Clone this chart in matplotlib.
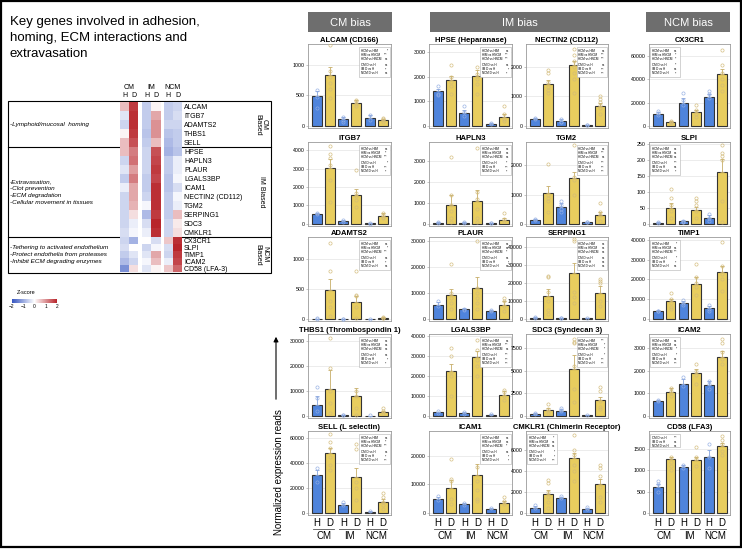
import numpy as np
import matplotlib
matplotlib.use("Agg")
import matplotlib.pyplot as plt
import matplotlib.transforms as mtransforms
from matplotlib.colors import LinearSegmentedColormap
from matplotlib.patches import Rectangle

plt.rcParams['font.family'] = ['Liberation Sans', 'DejaVu Sans']

W, H = 742, 549

# ---------------- heatmap data (z-scores: CM H, CM D, IM H, IM D, NCM H, NCM D)
hm_groups = ['CM', 'IM', 'NCM']
hm_cols = ['H', 'D', 'H', 'D', 'H', 'D']

genes_cm = ['ALCAM', 'ITGB7', 'ADAMTS2', 'THBS1', 'SELL']
z_cm = [[0.6, 1.8, -0.6, 0.1, -0.6, -0.5],
        [-0.3, 1.9, -0.6, 0.8, -0.6, -0.4],
        [-0.5, 1.9, -0.6, 1.0, -0.5, -0.5],
        [0.1, 1.8, -0.7, 1.0, -0.7, -0.6],
        [0.6, 1.6, -0.6, 0.6, -0.8, -0.6]]

genes_im = ['HPSE', 'HAPLN3', 'PLAUR', 'LGALS3BP', 'ICAM1',
            'NECTIN2 (CD112)', 'TGM2', 'SERPING1', 'SDC3', 'CMKLR1']
z_im = [[0.6, 1.2, -0.5, 1.6, -0.9, -0.7],
        [-0.5, 1.3, -0.5, 1.7, -0.6, -0.2],
        [-0.3, 0.9, -0.5, 1.8, -0.6, -0.2],
        [-0.6, 1.2, -0.6, 1.7, -0.7, -0.1],
        [-0.2, 0.8, -0.6, 1.9, -0.7, -0.4],
        [-0.5, 0.8, -0.5, 1.9, -0.6, -0.1],
        [-0.5, 0.7, -0.1, 1.9, -0.6, -0.2],
        [-0.5, 0.3, -0.8, 1.8, -0.6, 0.6],
        [-0.5, -0.2, -0.4, 2.0, -0.5, 0.2],
        [-0.4, -0.1, -0.2, 1.9, -0.5, 0.3]]

genes_ncm = ['CX3CR1', 'SLPI', 'TIMP1', 'ICAM2', 'CD58 (LFA-3)']
z_ncm = [[-0.5, -0.9, 0.0, -0.4, 0.5, 1.9],
         [-0.4, 0.0, -0.5, -0.1, -0.4, 2.0],
         [-0.6, -0.3, -0.3, 0.8, -0.5, 1.8],
         [-0.8, -0.5, -0.1, 0.6, -0.2, 1.7],
         [-1.3, 0.3, -0.3, 0.1, 0.5, 1.4]]

desc_cm = ['-Lymphoid/mucosal  homing']
desc_im = ['-Extravasation,', '-Clot prevention', '-ECM degradation',
           '-Cellular movement in tissues']
desc_ncm = ['-Tethering to activated endothelium',
            '-Protect endothelia from proteases',
            '-Inhibit ECM degrading enzymes']

# ---------------- bar chart data (H CM, D CM, H IM, D IM, H NCM, D NCM)
titles = ['ALCAM (CD166)', 'ITGB7', 'ADAMTS2', 'THBS1 (Thrombospondin 1)', 'SELL (L selectin)',
          'HPSE (Heparanase)', 'HAPLN3', 'PLAUR', 'LGALS3BP', 'ICAM1',
          'NECTIN2 (CD112)', 'TGM2', 'SERPING1', 'SDC3 (Syndecan 3)', 'CMKLR1 (Chimerin Receptor)',
          'CX3CR1', 'SLPI', 'TIMP1', 'ICAM2', 'CD58 (LFA3)']

means = [[490, 840, 110, 380, 130, 100],
         [550, 3050, 150, 1580, 30, 440],
         [5, 480, 3, 290, 3, 20],
         [4500, 10800, 400, 7800, 100, 1400],
         [30500, 48000, 6500, 29000, 1000, 9000],
         [1400, 1880, 530, 2020, 90, 380],
         [60, 900, 60, 1070, 40, 200],
         [5500, 9200, 3800, 12000, 3200, 5500],
         [1800, 22500, 1500, 29500, 700, 10500],
         [4800, 8600, 3000, 13200, 1400, 3300],
         [250, 1420, 170, 2060, 30, 680],
         [150, 1070, 570, 1580, 60, 300],
         [800, 12500, 600, 25500, 300, 14500],
         [200, 700, 600, 5200, 100, 1800],
         [500, 1750, 1450, 5200, 400, 2700],
         [10500, 3500, 20000, 11500, 25000, 44000],
         [3, 50, 8, 43, 17, 162],
         [4000, 9000, 8000, 17500, 5500, 24000],
         [650, 1070, 1420, 1900, 1350, 2600],
         [600, 1250, 1070, 1230, 1310, 1560]]

sems = [[80, 120, 30, 40, 50, 20],
        [50, 450, 40, 300, 10, 150],
        [2, 190, 1, 100, 1, 10],
        [3500, 7500, 100, 3300, 50, 600],
        [3500, 4000, 1500, 7000, 300, 2000],
        [100, 150, 100, 250, 30, 100],
        [30, 480, 20, 550, 10, 80],
        [1000, 2500, 500, 4000, 300, 1500],
        [300, 3500, 400, 3000, 100, 2000],
        [800, 3000, 300, 4000, 200, 800],
        [20, 150, 60, 150, 10, 100],
        [20, 230, 130, 200, 10, 100],
        [300, 4000, 200, 5500, 100, 3500],
        [80, 200, 150, 1500, 30, 300],
        [150, 400, 100, 500, 100, 500],
        [1500, 1000, 3500, 2000, 2000, 5000],
        [2, 15, 3, 10, 10, 40],
        [300, 1000, 1000, 3500, 1000, 3000],
        [50, 150, 200, 150, 200, 250],
        [80, 50, 50, 80, 150, 70]]

dots = [
    [[580, 300, 470], [1330, 900, 700, 600, 450, 800], [150, 60, 100], [430, 400, 360, 330], [180, 100], [130, 90, 60, 110]],
    [[600, 520], [4250, 3800, 3600, 3200, 2400, 1200], [200, 120], [2900, 1700, 1500, 1300, 900], [40, 20], [600, 500, 400, 300]],
    [[10, 5], [1270, 800, 300, 200, 50], [5, 3], [800, 400, 380, 200, 10], [5], [40, 20, 10]],
    [[11500, 7000, 2000], [31000, 19000, 10000, 5000, 1000], [500, 300], [10000, 8000, 3000, 500], [200], [3000, 2000, 1000]],
    [[36000, 25000], [63000, 57000, 52000, 45000, 38000, 34000], [9000, 6000], [55000, 51000, 25000, 20000, 10000], [1500], [16000, 13000, 9000, 6000, 3000]],
    [[1600, 1300, 1250], [2450, 2000, 1800, 1600, 1300], [800, 550, 400], [2400, 2100, 1900, 1700, 1300], [100, 80], [800, 500, 300, 200]],
    [[100, 60], [3200, 1400, 900, 600, 300, 100], [80, 50], [3600, 1500, 1200, 700, 300, 100], [50, 30], [500, 250, 150]],
    [[7000, 5000], [21000, 10000, 8000, 6000, 4000], [4000, 3500], [30000, 12000, 10000, 8000, 6000, 4000], [3500, 3000], [8000, 7000, 5000, 3000]],
    [[2500, 1500], [34000, 30000, 22000, 20000, 10000], [1800, 1200], [38000, 33000, 28000, 25000, 20000], [800], [13000, 12000, 10000, 8000]],
    [[6000, 4500], [19000, 12000, 11000, 5000, 3000], [3500, 2800], [16000, 11000, 8000, 5000, 4000], [1600], [5500, 4000, 3000]],
    [[260, 250], [1900, 1800, 1500, 1300, 1200, 1100], [220, 150, 120], [2600, 2400, 2200, 2000, 1800, 1600, 1100], [40, 30], [1000, 900, 800, 700, 600, 400]],
    [[170, 140], [2050, 1000, 900, 800, 400], [780, 650, 500, 400], [2700, 1600, 1500, 1000], [80, 50], [700, 400, 300, 100]],
    [[1200, 800], [24000, 23000, 15000, 10000, 5000, 3000], [800, 500], [44000, 43000, 15000, 12000, 9000], [400], [22000, 21000, 20000, 10000, 7000]],
    [[350, 200], [1300, 800, 500, 300], [900, 700, 500], [8500, 8200, 8000, 5500, 3000, 1500], [150], [3200, 2800, 1600, 1000, 800]],
    [[800, 500], [3100, 2800, 2000, 1500, 1000, 500], [1600, 1400], [7400, 6000, 5500, 4500, 4000, 3000], [600, 400], [4500, 4300, 3500, 2500, 1500, 1000]],
    [[11000, 9000, 13000], [4500, 3000, 2500], [28000, 22000, 18000], [18000, 14000, 10000, 8000], [30000, 27000, 24000], [65000, 52000, 45000, 40000, 35000, 30000]],
    [[5, 3], [110, 80, 60, 40, 20], [10, 7, 5], [80, 70, 60, 40, 20], [30, 20, 10], [245, 220, 210, 200, 70, 5]],
    [[4200, 3800], [13000, 10000, 8000, 6000, 5000], [9500, 8000, 7000], [28000, 21000, 18000, 16000, 12000], [7000, 5000, 4000], [39000, 27000, 23000, 20000, 14000]],
    [[700, 650], [1250, 1100, 1000, 900], [1700, 1300], [2300, 2000, 1800, 1400], [1550, 1400, 1200], [3400, 3200, 2800, 2500, 2300]],
    [[750, 680, 500], [1300, 1200, 1100, 1000], [1120, 1050], [1550, 1300, 1250, 1100], [1600, 1300, 1050], [1800, 1700, 1600, 1450, 1350]],
]

yticks = [[0, 500, 1000], [0, 1000, 2000, 3000, 4000], [0, 500, 1000],
          [0, 10000, 20000, 30000], [0, 20000, 40000, 60000],
          [0, 1000, 2000, 3000], [0, 1000, 2000, 3000], [0, 10000, 20000, 30000],
          [0, 10000, 20000, 30000, 40000], [0, 10000, 20000],
          [0, 1000, 2000], [0, 1000, 2000], [0, 10000, 20000, 30000, 40000],
          [0, 2500, 5000, 7500], [0, 2000, 4000, 6000],
          [0, 20000, 40000, 60000], [0, 50, 100, 150, 200, 250],
          [0, 10000, 20000, 30000, 40000], [0, 1000, 2000, 3000], [0, 500, 1000, 1500]]
ytop = [1340, 4440, 1373, 32700, 65600, 3320, 3900, 31600, 40900, 28600,
        2770, 2800, 45300, 9030, 7770, 70000, 255, 41500, 3615, 1915]

legend_left = [False] * 14 + [True] * 6

cmp_labels = ['HCM vs HIM', 'HIM vs HNCM', 'HCM vs HNCM', 'CM D vs H', 'IM D vs H', 'NCM D vs H']
sig = [['*', '***', 'ns', 'ns', '**', 'ns'],
       ['ns', '**', '***', '*', '***', '**'],
       ['ns', '*', '***', 'ns', '**', 'ns'],
       ['ns', 'ns', 'ns', 'ns', '*', '**'],
       ['ns', '**', '***', 'ns', '**', '***'],
       ['ns', '***', '***', 'ns', '*', '**'],
       ['ns', 'ns', 'ns', '**', '***', '**'],
       ['ns', 'ns', '**', 'ns', '*', 'ns'],
       ['ns', '***', 'ns', '***', '***', '***'],
       ['ns', 'ns', '**', 'ns', '*', '*'],
       ['ns', '***', '***', 'ns', '***', '***'],
       ['ns', '***', 'ns', '***', '***', '***'],
       ['ns', 'ns', 'ns', 'ns', 'ns', 'ns'],
       ['***', '*', '*', '*', '***', '***'],
       ['**', 'ns', 'ns', '*', '*', '***'],
       ['ns', '**', '**', '**', 'ns', '**'],
       ['ns', 'ns', 'ns', '***', 'ns', '**'],
       ['*', 'ns', '***', '*', '**', 'ns'],
       ['ns', 'ns', '*', '*', 'ns', '***'],
       ['ns', 'ns', 'ns', '***', 'ns', 'ns']]

bias_headers = ['CM bias', 'IM bias', 'NCM bias']

bar_colors = ['#4f84dc', '#e8cd5e'] * 3
err_colors = ['#86a4dc', '#c6ad68']
dot_colors = ['#93aee3', '#d2ba78']

fig = plt.figure(figsize=(W / 100, H / 100), dpi=100)


def px_axes(x0, y0, w, h):
    return fig.add_axes([x0 / W, 1 - (y0 + h) / H, w / W, h / H])


# overlay in pixel coordinates for frames and free text
ov = fig.add_axes([0, 0, 1, 1])
ov.set_xlim(0, W)
ov.set_ylim(H, 0)
ov.axis('off')
ov.add_patch(Rectangle((1, 1), W - 2, H - 3, fill=False, lw=1.6, ec='black'))

# ---------------- left panel
for k, line in enumerate(['Key genes involved in adhesion,', 'homing, ECM interactions and',
                          'extravasation']):
    ov.text(10, 22 + k * 16, line, fontsize=9.5, va='center', ha='left')

ov.add_patch(Rectangle((8, 101), 263, 172, fill=False, lw=0.8, ec='black'))
ov.plot([8, 271], [147, 147], color='black', lw=0.8)
ov.plot([8, 271], [237, 237], color='black', lw=0.8)

cmap = LinearSegmentedColormap.from_list('zs', ['#3655c0', '#ffffff', '#b8252b'])
x_edges = [0, 1, 2, 2.45, 3.45, 4.45, 4.8, 5.8, 6.8]
col_centers = [0.5, 1.5, 2.95, 3.95, 5.3, 6.3]

hm_blocks = [(genes_cm, z_cm, 102, 147, desc_cm, 'CM\nBiased'),
             (genes_im, z_im, 147, 237, desc_im, 'IM Biased'),
             (genes_ncm, z_ncm, 237, 272, desc_ncm, 'NCM\nBiased')]

for b, (genes, z, y0, y1, desc, side) in enumerate(hm_blocks):
    hax = px_axes(120, y0, 62, y1 - y0)
    data = np.insert(np.array(z, float), [2, 4], np.nan, axis=1)
    hax.pcolormesh(x_edges, np.arange(len(genes) + 1), data, cmap=cmap, vmin=-2, vmax=2)
    hax.set_xlim(0, 6.8)
    hax.set_ylim(len(genes), 0)
    for s in hax.spines.values():
        s.set_visible(False)
    hax.yaxis.tick_right()
    hax.set_yticks(np.arange(len(genes)) + 0.5)
    hax.set_yticklabels(genes, fontsize=5)
    hax.tick_params(axis='y', length=0, pad=1.5)
    if b == 0:
        hax.xaxis.tick_top()
        hax.set_xticks(col_centers)
        hax.set_xticklabels(hm_cols, fontsize=5)
        hax.tick_params(axis='x', length=0, pad=2)
        for g, name in enumerate(hm_groups):
            hax.annotate(name, xy=((col_centers[2 * g] + col_centers[2 * g + 1]) / 2, 1),
                         xycoords=('data', 'axes fraction'), xytext=(0, 10.5),
                         textcoords='offset points', ha='center', va='center', fontsize=5)
    else:
        hax.set_xticks([])
    # descriptions
    mid = (y0 + y1) / 2
    n = len(desc)
    for k, d in enumerate(desc):
        ov.text(10, mid + (k - (n - 1) / 2) * 6.8, d, fontsize=4.6, style='italic',
                va='center', ha='left')
    ov.text(261, mid, side, rotation=270, fontsize=5, ha='center', va='center',
            linespacing=1.0)

cax = px_axes(12, 299, 45, 4)
sm = plt.cm.ScalarMappable(cmap=cmap, norm=plt.Normalize(-2, 2))
cb = fig.colorbar(sm, cax=cax, orientation='horizontal')
cb.set_ticks([-2, -1, 0, 1, 2])
cb.ax.tick_params(labelsize=3.5, length=0, pad=1)
cb.outline.set_visible(False)
ov.text(26, 293, 'Z-score', fontsize=4, ha='center', va='center')

# ---------------- right panel
header_boxes = [(308, 84), (430, 180), (646, 84)]
for (hx, hw), name in zip(header_boxes, bias_headers):
    ov.add_patch(Rectangle((hx, 12), hw, 20, fc='#6e6e6e', ec='none'))
    ov.text(hx + hw / 2, 22.5, name, color='white', fontsize=8, ha='center', va='center')

ov.annotate('', xy=(276, 334), xytext=(276, 402),
            arrowprops=dict(arrowstyle='-|>', color='black', lw=0.8, mutation_scale=7))
ov.text(279, 472, 'Normalized expression reads', rotation=90, fontsize=7,
        ha='center', va='center')

col_x = [308, 429, 526, 649]
col_w = [83, 83, 82, 81]
row_y = [44, 142, 237, 334, 431]
ax_h = 84
xpos = np.arange(6)

for i, t in enumerate(titles):
    c, r = divmod(i, 5)
    ax = px_axes(col_x[c], row_y[r], col_w[c], ax_h)
    ax.bar(xpos, means[i], width=0.76, color=bar_colors, edgecolor='#333333',
           linewidth=0.8, zorder=2)
    for j in range(6):
        ax.errorbar(xpos[j], means[i][j], yerr=[[0], [sems[i][j]]], fmt='none',
                    ecolor=err_colors[j % 2], elinewidth=0.6, capsize=1.5,
                    capthick=0.6, zorder=3)
        ax.plot([xpos[j]] * len(dots[i][j]), dots[i][j], 'o', ms=2.3, mfc='none',
                mec=dot_colors[j % 2], mew=0.45, zorder=4)
    ax.set_xlim(-0.68, 5.62)
    ax.set_ylim(-0.025 * ytop[i], ytop[i])
    ax.set_yticks(yticks[i])
    ax.set_yticklabels([str(v) for v in yticks[i]], fontsize=3.8)
    ax.yaxis.grid(True, color='#e4e4e4', lw=0.5)
    ax.set_axisbelow(True)
    ax.tick_params(axis='y', length=1.2, width=0.4, color='#999999', pad=1)
    for s in ax.spines.values():
        s.set_color('#9a9a9a')
        s.set_linewidth(0.6)
    ax.set_title(t, fontsize=5.5, fontweight='bold', pad=1.5)

    # significance legend box
    labels = cmp_labels if i != 19 else cmp_labels[3:]
    marks = sig[i] if i != 19 else sig[i][3:]
    bw = 0.37
    bh = 0.36 if len(labels) == 6 else 0.15
    bx = 0.012 if legend_left[i] else 0.99 - bw
    by = 0.965 - bh
    ax.add_patch(Rectangle((bx, by), bw, bh, transform=ax.transAxes, fc='white',
                           ec='#b0b0b0', lw=0.4, zorder=5))
    yy = 0.965 - 0.045
    for k, (lab, m) in enumerate(zip(labels, marks)):
        if len(labels) == 6 and k == 3:
            yy -= 0.02
        ax.text(bx + 0.02, yy, lab, transform=ax.transAxes, fontsize=2.2,
                va='center', ha='left', zorder=6)
        ax.text(bx + bw - 0.03, yy, m, transform=ax.transAxes, fontsize=2.2,
                va='center', ha='right', zorder=6)
        yy -= 0.05

    if r == 4:
        ax.set_xticks(xpos)
        ax.set_xticklabels(['H', 'D'] * 3, fontsize=7)
        ax.tick_params(axis='x', length=0, pad=2)
        trans = mtransforms.blended_transform_factory(ax.transData, ax.transAxes)
        for g, name in enumerate(hm_groups):
            ax.plot([2 * g - 0.3, 2 * g + 1.3], [-0.165, -0.165], transform=trans,
                    clip_on=False, color='#555555', lw=0.6)
            ax.text(2 * g + 0.5, -0.25, name, transform=trans, ha='center',
                    va='center', fontsize=7)
    else:
        ax.set_xticks([])

fig.savefig('out.png', dpi=100)
